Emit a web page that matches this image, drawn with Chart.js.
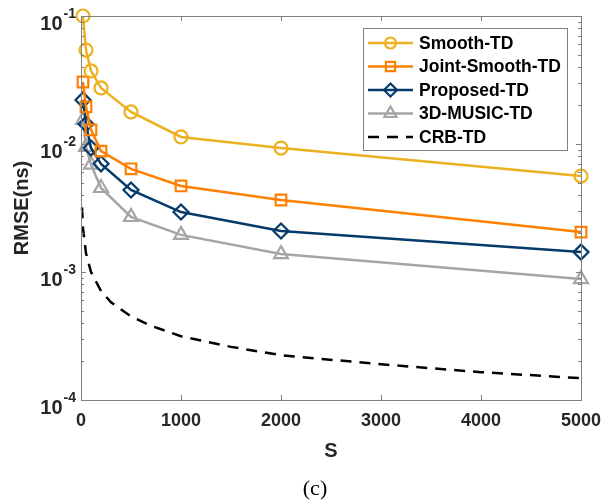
<!DOCTYPE html>
<html>
<head>
<meta charset="utf-8">
<script src="https://cdn.jsdelivr.net/npm/chart.js@4.4.0/dist/chart.umd.min.js"></script>
<style>
  html, body { margin: 0; padding: 0; background: #fff; }
</style>
</head>
<body>
<canvas id="rmseChart" width="603" height="502"></canvas>
<script>
// number of snapshots S for the estimator curves
const snapshots = [20, 50, 100, 200, 500, 1000, 2000, 5000];
const smoothTD = [0.100, 0.0542, 0.0372, 0.0274, 0.0178, 0.01135, 0.0093, 0.00562];
const jointSmoothTD = [0.0305, 0.0195, 0.0129, 0.0088, 0.0064, 0.0047, 0.00365, 0.00205];
const proposedTD = [0.0221, 0.0143, 0.0093, 0.0070, 0.00437, 0.00294, 0.00209, 0.00143];
const musicTD = [0.0154, 0.0095, 0.0069, 0.00453, 0.00269, 0.00195, 0.00138, 0.00088];

// CRB is drawn as a dense dashed curve
const crbS = [10, 20, 50, 100, 200, 300, 500, 700, 1000, 1500, 2000, 3000, 4000, 5000];
const crbTD = [3.2e-3, 2.2e-3, 1.4e-3, 1.0e-3, 7.1e-4, 5.8e-4, 4.5e-4, 3.8e-4, 3.15e-4, 2.6e-4, 2.24e-4, 1.9e-4, 1.65e-4, 1.48e-4];

const xTicks = [0, 1000, 2000, 3000, 4000, 5000];
const yDecades = [-4, -3, -2, -1];

const axisColor = '#808080';
const labelColor = '#262626';
const FONT = '"Liberation Sans", Arial, sans-serif';

const series = [
  { label: 'Smooth-TD', data: smoothTD, color: '#EDB120', style: 'circle', radius: 6.5 },
  { label: 'Joint-Smooth-TD', data: jointSmoothTD, color: '#FF8000', style: 'rect', radius: 7.5 },
  { label: 'Proposed-TD', data: proposedTD, color: '#063A6B', style: 'rectRot', radius: 7.5 },
  { label: '3D-MUSIC-TD', data: musicTD, color: '#A5A5A5', style: 'triangle', radius: 8 }
];

const toPoints = (xs, ys) => xs.map((s, i) => ({ x: s, y: ys[i] }));

const datasets = series.map(s => ({
  label: s.label,
  data: toPoints(snapshots, s.data),
  borderColor: s.color,
  borderWidth: 2.5,
  pointStyle: s.style,
  pointRadius: s.radius,
  pointBorderWidth: 2.2,
  pointBorderColor: s.color,
  pointBackgroundColor: 'rgba(0,0,0,0)',
  clip: false
}));

datasets.push({
  label: 'CRB-TD',
  data: toPoints(crbS, crbTD),
  borderColor: '#000',
  borderWidth: 2.5,
  borderDash: [11, 8],
  pointRadius: 0,
  clip: false
});

// box, inward ticks, y labels with exponents, titles and legend
const decorations = {
  id: 'decorations',
  afterDraw(chart) {
    const { ctx, chartArea: a, scales: { x, y } } = chart;
    ctx.save();

    ctx.strokeStyle = axisColor;
    ctx.lineWidth = 1;
    const seg = (x1, y1, x2, y2) => {
      ctx.beginPath(); ctx.moveTo(x1, y1); ctx.lineTo(x2, y2); ctx.stroke();
    };
    ctx.strokeRect(Math.round(a.left) + 0.5, Math.round(a.top) + 0.5,
      Math.round(a.right - a.left), Math.round(a.bottom - a.top));

    xTicks.forEach(v => {
      const px = Math.round(x.getPixelForValue(v)) + 0.5;
      seg(px, a.bottom, px, a.bottom - 5);
      seg(px, a.top, px, a.top + 5);
    });

    yDecades.forEach(e => {
      for (let m = 1; m <= 9; m++) {
        if (e === -1 && m > 1) break;
        const py = Math.round(y.getPixelForValue(m * Math.pow(10, e))) + 0.5;
        const len = m === 1 ? 5 : 3;
        seg(a.left, py, a.left + len, py);
        seg(a.right, py, a.right - len, py);
      }
    });

    // y tick labels: "10" with a raised exponent
    ctx.fillStyle = labelColor;
    ctx.textBaseline = 'middle';
    yDecades.forEach(e => {
      const py = y.getPixelForValue(Math.pow(10, e));
      ctx.font = 'bold 14px ' + FONT;
      ctx.textAlign = 'right';
      const exp = String(e);
      const expW = ctx.measureText(exp).width;
      ctx.fillText(exp, a.left - 5, py - 2);
      ctx.font = 'bold 20px ' + FONT;
      ctx.fillText('10', a.left - 6 - expW, py + 8);
    });

    // axis titles
    ctx.font = 'bold 20px ' + FONT;
    ctx.textAlign = 'center';
    ctx.fillText('S', (a.left + a.right) / 2, 451);
    ctx.save();
    ctx.translate(22, (a.top + a.bottom) / 2);
    ctx.rotate(-Math.PI / 2);
    ctx.fillText('RMSE(ns)', 0, 0);
    ctx.restore();

    ctx.fillStyle = '#000';
    ctx.font = '22px "Liberation Serif", "Times New Roman", serif';
    ctx.fillText('(c)', 315, 489);

    // legend
    const lx = 363.5, ly = 28.5, lw = 204, lh = 122;
    ctx.fillStyle = '#fff';
    ctx.fillRect(lx, ly, lw, lh);
    ctx.strokeStyle = axisColor;
    ctx.lineWidth = 1;
    ctx.strokeRect(lx, ly, lw, lh);

    ctx.font = 'bold 17.5px ' + FONT;
    ctx.textAlign = 'left';
    chart.data.datasets.forEach((ds, i) => {
      const cy = 43 + i * 23.5;
      ctx.strokeStyle = ds.borderColor;
      ctx.lineWidth = ds.borderWidth;
      ctx.setLineDash(ds.borderDash || []);
      seg(368, cy, 413, cy);
      ctx.setLineDash([]);
      if (ds.pointRadius > 0) {
        ctx.lineWidth = ds.pointBorderWidth;
        ctx.strokeStyle = ds.pointBorderColor;
        ctx.fillStyle = 'rgba(0,0,0,0)';
        Chart.helpers.drawPoint(ctx, { pointStyle: ds.pointStyle, radius: ds.pointRadius - 1, borderWidth: 2 }, 390.5, cy);
      }
      ctx.fillStyle = '#000';
      ctx.fillText(ds.label, 419, cy + 1);
    });

    ctx.restore();
  }
};

const chart = new Chart(document.getElementById('rmseChart').getContext('2d'), {
  type: 'line',
  data: { datasets },
  options: {
    responsive: false,
    animation: false,
    layout: { padding: { top: 16, right: 0, left: 0, bottom: 0 } },
    plugins: { legend: { display: false }, tooltip: { enabled: false } },
    elements: { line: { tension: 0 } },
    scales: {
      x: {
        type: 'linear',
        min: 0,
        max: 5000,
        afterBuildTicks: s => { s.ticks = xTicks.map(v => ({ value: v })); },
        afterFit: s => { s.height = 102; s.paddingRight = 22; },
        grid: { display: false, drawTicks: false },
        border: { display: false },
        ticks: {
          color: labelColor,
          font: { family: FONT, size: 18, weight: 'bold' },
          padding: 10,
          maxRotation: 0,
          callback: v => String(v)
        }
      },
      y: {
        type: 'logarithmic',
        min: 1e-4,
        max: 1e-1,
        afterFit: s => { s.width = 81; },
        grid: { display: false, drawTicks: false },
        border: { display: false },
        ticks: { display: false }
      }
    }
  },
  plugins: [decorations]
});
</script>
</body>
</html>
